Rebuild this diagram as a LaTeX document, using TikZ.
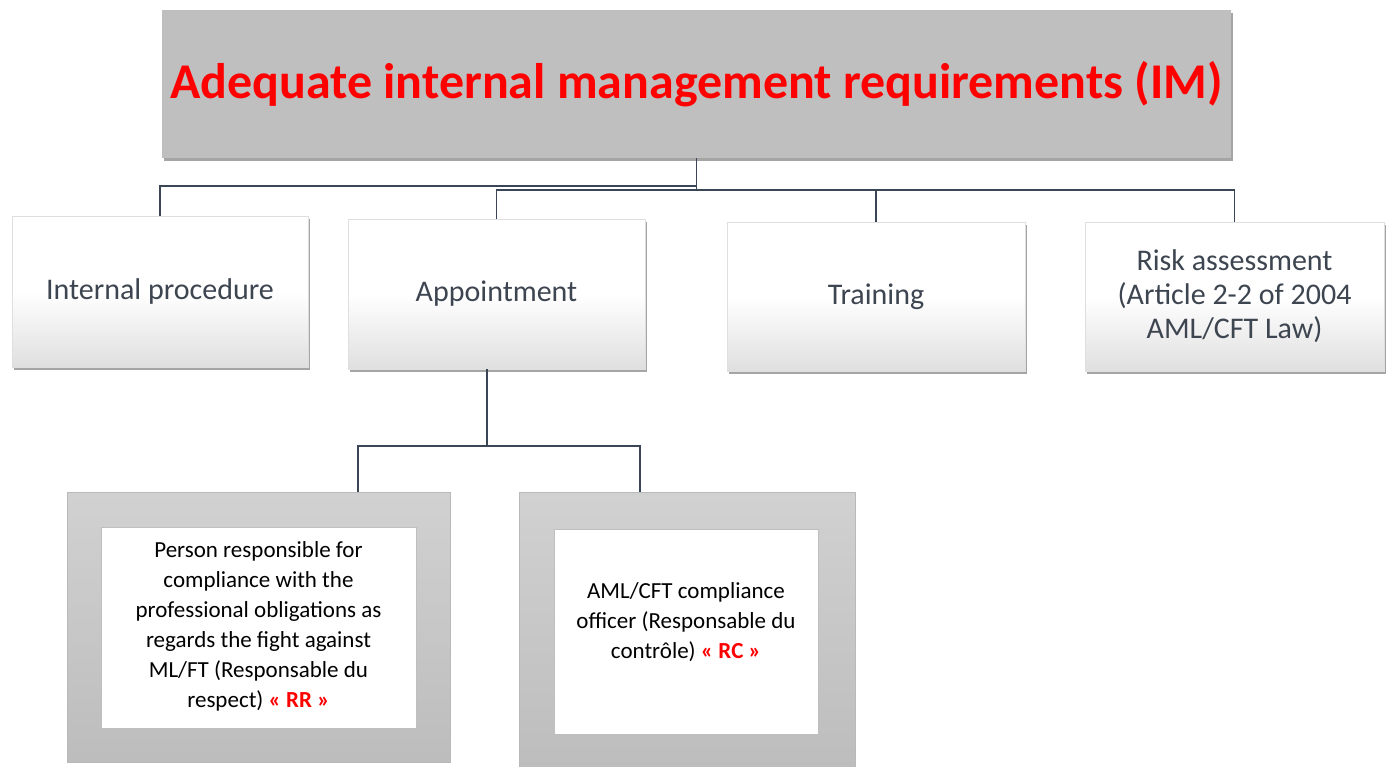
\documentclass[tikz,border=0pt]{standalone}
\usepackage{fontspec}
\setmainfont{Carlito}
\usetikzlibrary{shadows}
\definecolor{lineC}{HTML}{3A4556}
\definecolor{txtC}{HTML}{3D4550}
\definecolor{redC}{HTML}{FF0000}
\definecolor{topfill}{HTML}{BFBFBF}
\tikzset{
  conn/.style={draw=lineC, line width=1.8pt},
  titlebox/.style={fill=topfill, draw=none, minimum width=1069pt, minimum height=148pt,
    drop shadow={shadow xshift=1.5pt, shadow yshift=-3pt, fill=black!70, opacity=0.5},
    font=\fontsize{50}{56}\selectfont\bfseries, text=redC},
  lvbox/.style={draw=gray!25, line width=0.5pt, top color=white, bottom color=gray!25, middle color=white,
    drop shadow={shadow xshift=1.5pt, shadow yshift=-3pt, fill=black!70, opacity=0.5},
    font=\fontsize{30}{34}\selectfont, text=txtC, align=center, inner sep=0pt},
  outerbox/.style={draw=gray!55, line width=1pt, top color=black!18, bottom color=black!26, inner sep=0pt},
  innerbox/.style={draw=gray!50, line width=0.8pt, fill=white, inner sep=0pt},
  innertext/.style={font=\fontsize{23}{30}\selectfont, text=black, align=center},
}
\begin{document}
\begin{tikzpicture}[x=1pt,y=-1pt]
\useasboundingbox (0,0) rectangle (1392,766);
\fill[white] (0,0) rectangle (1392,766);
\begin{scope}
\clip (0,0) rectangle (1392,766);
% top box
\node[titlebox] (top) at (696.5,84) {Adequate internal management requirements (IM)};
% level-1 boxes
\node[lvbox, minimum width=296pt, minimum height=151pt] (ip) at (160,291.5) {Internal procedure};
\node[lvbox, minimum width=297pt, minimum height=150pt] (app) at (496.5,294) {Appointment};
\node[lvbox, minimum width=298pt, minimum height=149pt] (tr) at (876,296.5) {Training};
\node[lvbox, minimum width=299pt, minimum height=149pt] (risk) at (1234.5,296.5) {Risk assessment\\(Article 2-2 of 2004\\AML/CFT Law)};
% bottom boxes
\node[outerbox, minimum width=383pt, minimum height=270pt] (lo) at (258.5,627) {};
\node[innerbox, minimum width=315pt, minimum height=201pt] (li) at (258.5,627.5) {};
\node[innertext] (lt) at (258.5,626) {Person responsible for\\compliance with the\\professional obligations as\\regards the fight against\\ML/FT (Responsable du\\respect) \textcolor{redC}{\bfseries « RR »}};
\node[outerbox, minimum width=336pt, minimum height=280pt] (ro) at (687,632) {};
\node[innerbox, minimum width=264pt, minimum height=205pt] (ri) at (686,631.5) {};
\node[innertext] (rt) at (686,622) {AML/CFT compliance\\officer (Responsable du\\contrôle) \textcolor{redC}{\bfseries « RC »}};
\end{scope}
% connectors
\coordinate (j1) at (696.5,186);
\coordinate (j2) at (696.5,190);
\coordinate (a1) at (487,446);
\draw[conn] (top.south) -- (j2);
\draw[conn] (j1) -| (ip.north);
\draw[conn] (j2) -| (app.north);
\draw[conn] (j2) -| (tr.north);
\draw[conn] (j2) -| (risk.north);
\draw[conn] ([xshift=-9.5pt]app.south) -- (a1);
\draw[conn] (a1) -| ([xshift=99.5pt]lo.north);
\draw[conn] (a1) -| ([xshift=-47pt]ro.north);
\end{tikzpicture}
\end{document}
